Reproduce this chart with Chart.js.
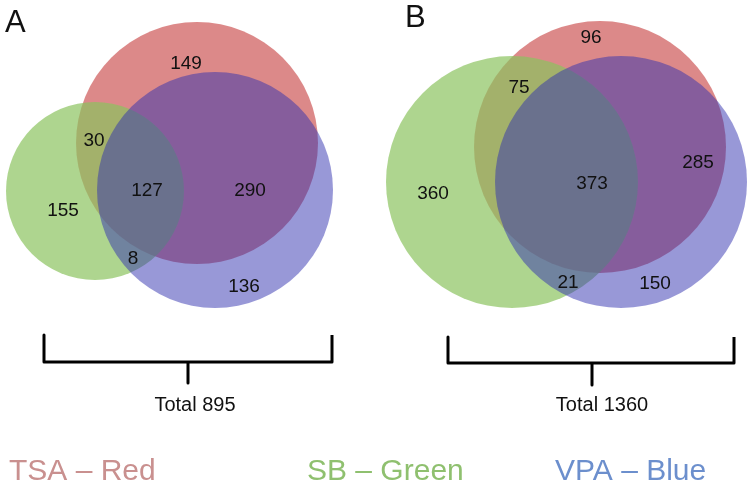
<!DOCTYPE html>
<html>
<head>
<meta charset="utf-8">
<script src="https://cdn.jsdelivr.net/npm/chart.js@4"></script>
<style>
  html, body { margin: 0; padding: 0; background: #fff; }
  #venn { display: block; }
</style>
</head>
<body>
<canvas id="venn" width="755" height="485"></canvas>
<script>
// Data
const setNames = ['TSA – Red', 'SB – Green', 'VPA – Blue']
const panels = ['A', 'B']
const totals = [895, 1360]
// regions: TSA only, TSA+SB, SB only, all three, TSA+VPA, SB+VPA, VPA only
const countsA = [149, 30, 155, 127, 290, 8, 136]
const countsB = [96, 75, 360, 373, 285, 21, 150]

// Layout (chart units, 1 unit = 1px)
// circle centre + radius for TSA, SB, VPA
const circlesA = [[197, 143, 121], [95, 191, 89], [215, 190, 118]]
const circlesB = [[600, 147, 126], [512, 182, 126], [621, 182, 126]]
const labelPosA = [[186, 63], [94, 140], [63, 210], [147, 190], [250, 190], [133, 258], [244, 286]]
const labelPosB = [[591, 37], [519, 87], [433, 193], [592, 183], [698, 162], [568, 282], [655, 283]]
const bracketA = { left: 44, right: 332, top: 335, bottom: 362, stem: 188, stemEnd: 383, textX: 195 }
const bracketB = { left: 448, right: 734, top: 337, bottom: 363, stem: 592, stemEnd: 385, textX: 602 }

const fills = ['rgba(192,40,40,0.55)', 'rgba(140,195,95,0.7)', 'rgba(50,50,175,0.5)']
const legendColors = ['#c9908f', '#8fc06f', '#6c8fcd']

function circleDataset(i) {
  const pts = [circlesA[i], circlesB[i]]
  return {
    type: 'scatter',
    data: pts.map(c => ({ x: c[0], y: c[1] })),
    pointBackgroundColor: fills[i],
    pointBorderWidth: 0,
    showLine: false,
    clip: false,
    order: 3 - i, // red at the bottom, blue on top
    pointRadius: (c) => {
      const xs = c.chart.scales.x
      const p = pts[c.dataIndex]
      if (!xs || !p) return 0
      const r = xs.getPixelForValue(p[2]) - xs.getPixelForValue(0)
      return isFinite(r) ? r : 0
    }
  }
}

function bracketDataset(b) {
  return {
    type: 'line',
    data: [
      { x: b.left, y: b.top }, { x: b.left, y: b.bottom }, { x: b.right, y: b.bottom }, { x: b.right, y: b.top },
      { x: null, y: null },
      { x: b.stem, y: b.bottom }, { x: b.stem, y: b.stemEnd }
    ],
    borderColor: '#000',
    borderWidth: 3,
    borderJoinStyle: 'round',
    pointRadius: 0,
    showLine: true,
    spanGaps: false,
    fill: false,
    clip: false,
    order: 0
  }
}

const textPlugin = {
  id: 'vennText',
  afterDatasetsDraw(chart) {
    const ctx = chart.ctx
    const xs = chart.scales.x
    const ys = chart.scales.y
    const px = v => xs.getPixelForValue(v)
    const py = v => ys.getPixelForValue(v)
    ctx.save()

    // region counts
    ctx.fillStyle = '#111'
    ctx.font = '19px "Liberation Sans", Arial, sans-serif'
    ctx.textAlign = 'center'
    ctx.textBaseline = 'middle'
    ;[[countsA, labelPosA], [countsB, labelPosB]].forEach(([counts, pos]) => {
      counts.forEach((n, i) => ctx.fillText(String(n), px(pos[i][0]), py(pos[i][1]) + 1))
    })

    // panel letters
    ctx.textAlign = 'left'
    ctx.textBaseline = 'alphabetic'
    ctx.font = '31px "Liberation Sans", Arial, sans-serif'
    ctx.fillText(panels[0], px(5), py(32))
    ctx.fillText(panels[1], px(405), py(27))

    // totals
    ctx.textAlign = 'center'
    ctx.font = '20px "Liberation Sans", Arial, sans-serif'
    ctx.fillText('Total ' + totals[0], px(bracketA.textX), py(411))
    ctx.fillText('Total ' + totals[1], px(bracketB.textX), py(411))

    // legend
    ctx.textAlign = 'left'
    ctx.font = '30px "Liberation Sans", Arial, sans-serif'
    const legendX = [9, 307, 555]
    setNames.forEach((s, i) => {
      ctx.fillStyle = legendColors[i]
      ctx.fillText(s, px(legendX[i]), py(480))
    })
    ctx.restore()
  }
}

const config = {
  type: 'scatter',
  data: {
    datasets: [circleDataset(0), circleDataset(1), circleDataset(2), bracketDataset(bracketA), bracketDataset(bracketB)]
  },
  options: {
    responsive: false,
    animation: false,
    events: [],
    layout: { padding: 0 },
    scales: {
      x: { type: 'linear', min: 0, max: 755, display: false },
      y: { type: 'linear', min: 0, max: 485, reverse: true, display: false }
    },
    plugins: {
      legend: { display: false },
      tooltip: { enabled: false }
    }
  },
  plugins: [textPlugin]
}

const graph = new Chart(document.getElementById('venn'), config)
</script>
</body>
</html>
